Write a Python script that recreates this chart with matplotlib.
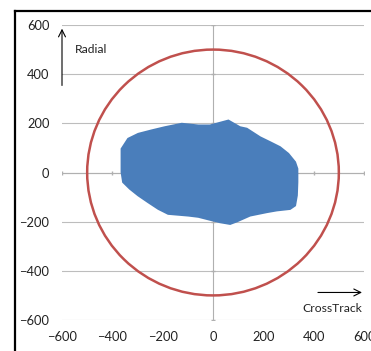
import numpy as np
import matplotlib.pyplot as plt
from matplotlib.lines import Line2D
from matplotlib.patches import Circle

# outline of the dense point cloud (CrossTrack, Radial)
cloud_x = [-363, -337, -297, -244, -191, -124, -58, -12, 28, 61, 107, 134,
           187, 227, 266, 299, 326, 335, 335, 333, 326, 306, 253, 214, 147,
           94, 68, 28, -12, -58, -98, -178, -217, -257, -297, -330, -357,
           -363, -363]
cloud_y = [96, 137, 157, 171, 184, 198, 191, 191, 202, 211, 184, 178,
           143, 123, 103, 76, 42, 15, -39, -93, -134, -148, -154, -161, -175,
           -199, -209, -202, -192, -180, -175, -168, -148, -121, -93, -66, -39,
           1, 56]

limit_radius = 500
ticks = [-600, -400, -200, 0, 200, 400, 600]

plt.rcParams['font.family'] = ['Lato', 'DejaVu Sans']

fig = plt.figure(figsize=(3.71, 3.51), dpi=100)
ax = fig.add_axes([62 / 371, 31 / 351, 302 / 371, 295 / 351])

# chart frame (cropped on right and bottom)
top = 1 - 10.5 / 351
left = 15 / 371
fig.lines.append(Line2D([left, 1.0], [top, top], transform=fig.transFigure,
                        color='black', linewidth=1.6))
fig.lines.append(Line2D([left, left], [0.0, top], transform=fig.transFigure,
                        color='black', linewidth=1.6))

ax.set_xlim(-600, 600)
ax.set_ylim(-600, 600)
for t in ticks:
    ax.axhline(t, color='#bdbdbd', linewidth=0.8, zorder=0)
ax.axvline(0, color='#b0b0b0', linewidth=0.8, zorder=0)
ax.axhline(0, color='#b0b0b0', linewidth=0.8, zorder=0)
ax.plot(ticks, [0] * len(ticks), linestyle='none', marker='|',
        markersize=3, color='#b0b0b0', zorder=0)
ax.plot([0] * len(ticks), ticks, linestyle='none', marker='_',
        markersize=3, color='#b0b0b0', zorder=0)

ax.fill(cloud_x, cloud_y, color='#4a7ebb', edgecolor='#4a7ebb',
        linewidth=1.5, zorder=2)
ax.add_patch(Circle((0, 0), limit_radius, fill=False, edgecolor='#c0504d',
                    linewidth=1.8, zorder=3))

ax.set_xticks(ticks)
ax.set_yticks(ticks)
ax.tick_params(length=0, labelsize=9.3, colors='#222222')
ax.tick_params(axis='x', pad=8)
ax.tick_params(axis='y', pad=9)
for s in ax.spines.values():
    s.set_visible(False)

arrow = dict(arrowstyle='->,head_length=0.5,head_width=0.25', color='black',
             linewidth=0.8, shrinkA=0, shrinkB=0)
ax.annotate('', xy=(-600, 585), xytext=(-600, 354), arrowprops=arrow,
            annotation_clip=False)
ax.text(-549, 500, 'Radial', fontsize=8.7, color='#222222',
        ha='left', va='center')
ax.annotate('', xy=(592, -488), xytext=(417, -488), arrowprops=arrow,
            annotation_clip=False)
ax.text(592, -553, 'CrossTrack', fontsize=8.7, color='#222222',
        ha='right', va='center')

fig.savefig('out.png', dpi=100, facecolor='white')
